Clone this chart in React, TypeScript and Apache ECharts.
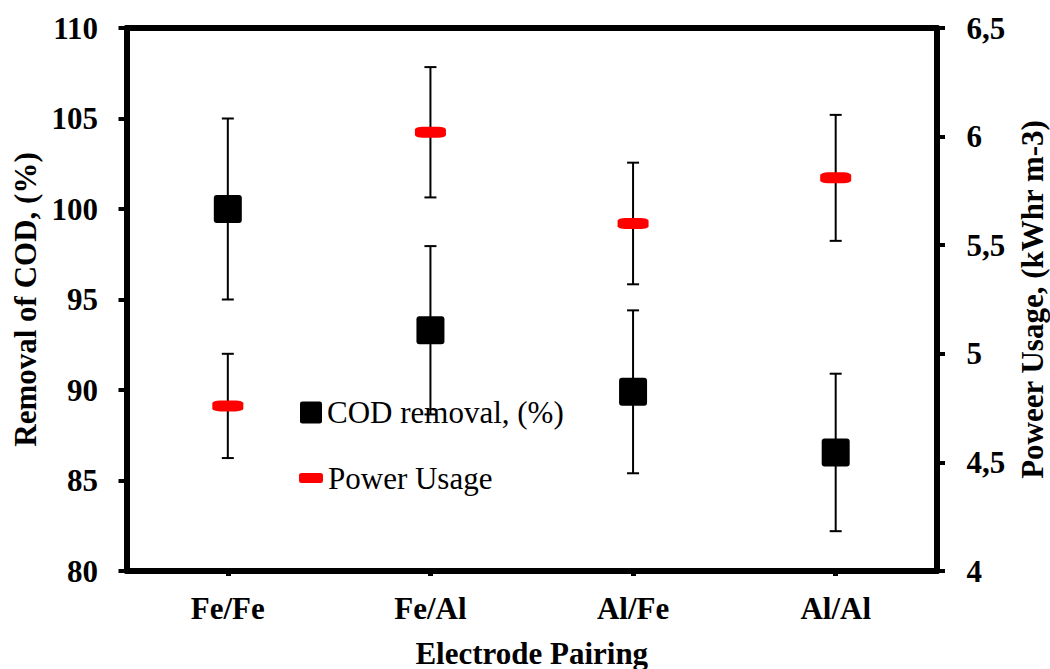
import React, { useEffect, useRef } from "react";
import * as echarts from "echarts";

// Electrode pairings on the x axis
const categories = ["Fe/Fe", "Fe/Al", "Al/Fe", "Al/Al"];

// COD removal (%) with its error half-widths
const codRemoval = [100, 93.3, 89.9, 86.55];
const codError = [5.0, 4.65, 4.5, 4.35];

// Power usage (kWhr m-3) with its error half-widths
const powerUsage = [4.76, 6.02, 5.6, 5.81];
const powerError = [0.24, 0.3, 0.28, 0.29];

// Tick ranges for the two value axes
const leftAxisRange = { min: 80, max: 110, step: 5 };
const rightAxisRange = { min: 4, max: 6.5, step: 0.5 };

const SERIF = '"Times New Roman", "Liberation Serif", "DejaVu Serif", serif';
const SQUARE = "path://M3,0H25Q28,0 28,3V25Q28,28 25,28H3Q0,28 0,25V3Q0,0 3,0Z";

function errorBarRenderer(params: any, api: any) {
  const idx = api.value(0);
  const top = api.coord([idx, api.value(2)]);
  const bottom = api.coord([idx, api.value(1)]);
  const cap = 6;
  const style = { stroke: "#000", lineWidth: 2 };
  return {
    type: "group",
    children: [
      { type: "line", shape: { x1: top[0], y1: top[1], x2: bottom[0], y2: bottom[1] }, style },
      { type: "line", shape: { x1: top[0] - cap, y1: top[1], x2: top[0] + cap, y2: top[1] }, style },
      { type: "line", shape: { x1: bottom[0] - cap, y1: bottom[1], x2: bottom[0] + cap, y2: bottom[1] }, style },
    ],
  };
}

export default function App() {
  const ref = useRef<HTMLDivElement>(null);

  useEffect(() => {
    if (!ref.current) return;
    const chart = echarts.init(ref.current, undefined, { renderer: "svg" });

    const axisLine = { show: true, lineStyle: { color: "#000", width: 6 } };
    const tickStyle = { color: "#000", width: 4 };
    const boldText = { color: "#000", fontFamily: SERIF, fontWeight: "bold" as const, fontSize: 31 };
    const legendText = { color: "#000", fontFamily: SERIF, fontWeight: "normal" as const, fontSize: 31 };

    chart.setOption({
      animation: false,
      backgroundColor: "#fff",
      textStyle: { fontFamily: SERIF },
      grid: {
        left: 126.5,
        right: 113,
        top: 28,
        bottom: 98,
        containLabel: false,
        outerBoundsMode: "none",
      },
      legend: [
        {
          data: [{ name: "COD removal, (%)", icon: SQUARE }],
          left: 300,
          top: 397,
          padding: 0,
          orient: "vertical",
          itemWidth: 22,
          itemHeight: 22,
          symbolKeepAspect: false,
          selectedMode: false,
          textStyle: legendText,
        },
        {
          data: [{ name: "Power Usage", icon: "roundRect" }],
          left: 299,
          top: 462.5,
          padding: 0,
          orient: "vertical",
          itemWidth: 24,
          itemHeight: 10,
          symbolKeepAspect: false,
          selectedMode: false,
          textStyle: legendText,
        },
      ],
      xAxis: [
        {
          type: "category",
          data: categories,
          position: "bottom",
          axisLine,
          axisTick: { show: true, alignWithLabel: true, length: 5, lineStyle: { color: "#000", width: 5 } },
          axisLabel: { ...boldText, margin: 21.5 },
          splitLine: { show: false },
          name: "Electrode Pairing",
          nameLocation: "middle",
          nameGap: 66.5,
          nameTextStyle: boldText,
        },
        {
          type: "category",
          data: categories,
          position: "top",
          axisLine,
          axisTick: { show: false },
          axisLabel: { show: false },
          splitLine: { show: false },
        },
      ],
      yAxis: [
        {
          type: "value",
          position: "left",
          min: leftAxisRange.min,
          max: leftAxisRange.max,
          interval: leftAxisRange.step,
          axisLine,
          axisTick: { show: true, inside: false, length: 8, lineStyle: tickStyle },
          axisLabel: { ...boldText, margin: 28.5 },
          splitLine: { show: false },
          name: "Removal of COD, (%)",
          nameLocation: "middle",
          nameRotate: 90,
          nameGap: 84.5,
          nameTextStyle: boldText,
        },
        {
          type: "value",
          position: "right",
          min: rightAxisRange.min,
          max: rightAxisRange.max,
          interval: rightAxisRange.step,
          axisLine,
          axisTick: { show: true, inside: false, length: 8, lineStyle: tickStyle },
          axisLabel: {
            ...boldText,
            margin: 29.5,
            formatter: (v: number) => String(v).replace(".", ","),
          },
          splitLine: { show: false },
          name: "Poweer Usage, (kWhr m-3)",
          nameLocation: "middle",
          nameRotate: 90,
          nameGap: 80,
          nameTextStyle: boldText,
        },
      ],
      series: [
        {
          name: "COD error",
          type: "custom",
          xAxisIndex: 0,
          yAxisIndex: 0,
          z: 1,
          renderItem: errorBarRenderer,
          encode: { x: 0, y: [1, 2] },
          data: codRemoval.map((v, i) => [i, v - codError[i], v + codError[i]]),
        },
        {
          name: "Power error",
          type: "custom",
          xAxisIndex: 0,
          yAxisIndex: 1,
          z: 1,
          renderItem: errorBarRenderer,
          encode: { x: 0, y: [1, 2] },
          data: powerUsage.map((v, i) => [i, v - powerError[i], v + powerError[i]]),
        },
        {
          name: "COD removal, (%)",
          type: "scatter",
          xAxisIndex: 0,
          yAxisIndex: 0,
          z: 3,
          symbol: SQUARE,
          symbolSize: 28,
          itemStyle: { color: "#000", opacity: 1 },
          data: codRemoval,
        },
        {
          name: "Power Usage",
          type: "scatter",
          xAxisIndex: 0,
          yAxisIndex: 1,
          z: 3,
          symbol: "roundRect",
          symbolSize: [31, 11],
          itemStyle: { color: "#ff0000", opacity: 1 },
          data: powerUsage,
        },
      ],
    });

    return () => chart.dispose();
  }, []);

  return (
    <div
      ref={ref}
      style={{ position: "fixed", left: 0, top: 0, width: 1050, height: 669, background: "#fff" }}
    />
  );
}
